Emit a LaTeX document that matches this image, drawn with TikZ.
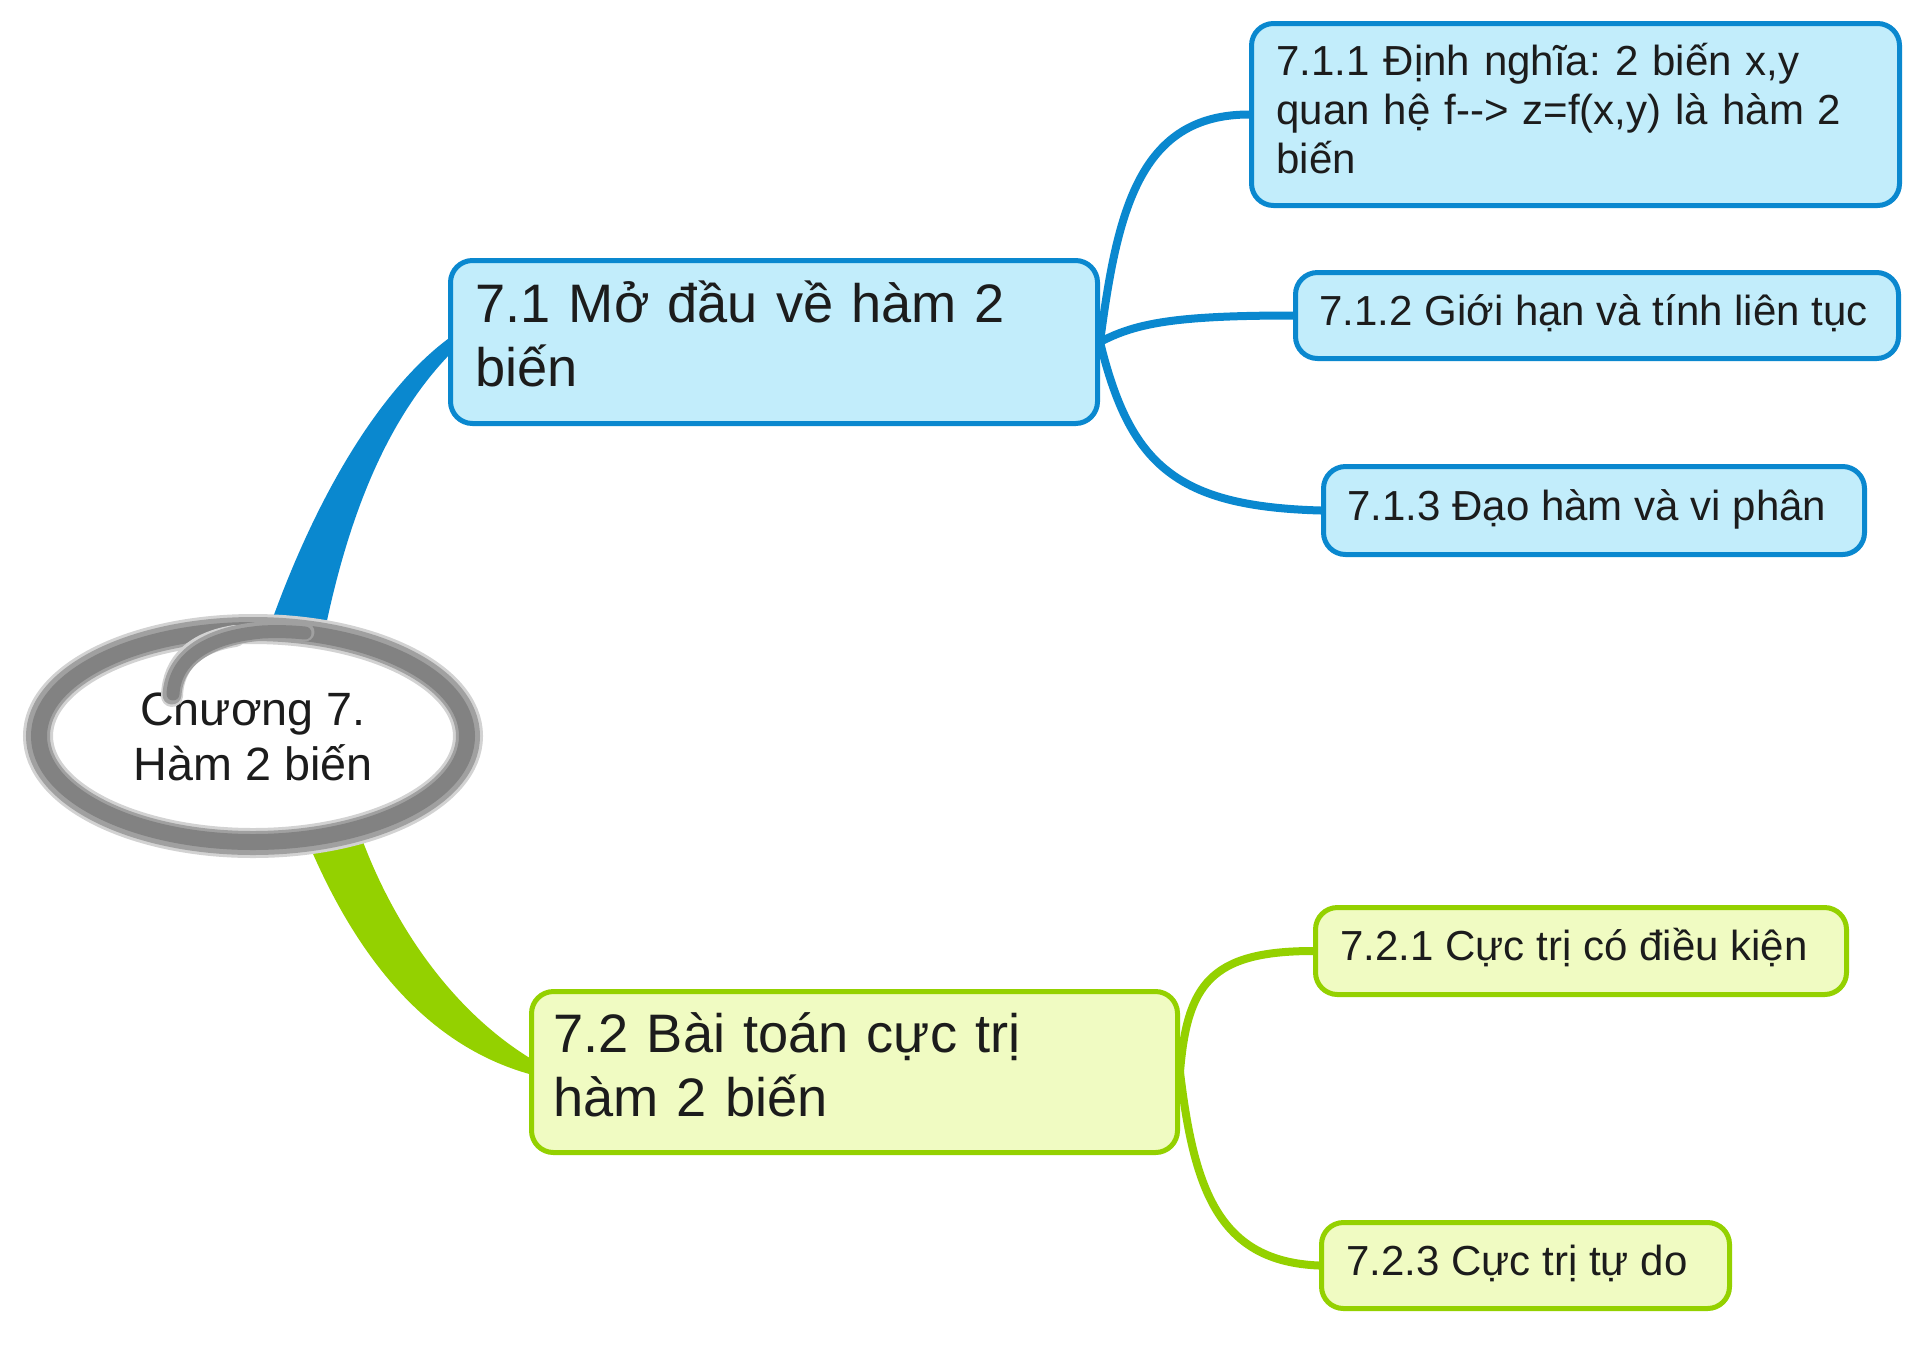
\documentclass[tikz,border=0pt]{standalone}
\usepackage{fontspec}
\setmainfont{Liberation Sans}
\frenchspacing
\usetikzlibrary{shapes.geometric,calc}
\pgfdeclarelayer{background}
\pgfsetlayers{background,main}
\definecolor{blueline}{HTML}{0A88CF}
\definecolor{bluefill}{HTML}{C2EDFB}
\definecolor{greenline}{HTML}{94D100}
\definecolor{greenfill}{HTML}{F0FBC2}
\definecolor{txt}{HTML}{1C1C1C}
\definecolor{brushA}{HTML}{D2D2D2}
\definecolor{brushB}{HTML}{A0A0A0}
\definecolor{brushC}{HTML}{828282}
\tikzset{
  box/.style={rectangle, rounded corners=11pt, line width=2.5pt, align=left,
    inner ysep=0pt, text=txt},
  bluebox/.style={box, draw=blueline, fill=bluefill},
  greenbox/.style={box, draw=greenline, fill=greenfill},
  bigtext/.style={font=\fontsize{27.1}{32}\selectfont, text height=22.4pt, text depth=41.6pt},
  smallone/.style={font=\fontsize{21}{24.5}\selectfont, text height=17.15pt, text depth=7.35pt},
  smallthree/.style={font=\fontsize{21}{24.5}\selectfont, text height=17.15pt, text depth=56.35pt},
  conn/.style={line width=4pt, line cap=round},
  rootnode/.style={ellipse, fill=white, minimum width=215pt, minimum height=107pt,
    inner sep=0pt, align=center, text=txt, font=\fontsize{23.35}{27.5}\selectfont}
}
\begin{document}
\begin{tikzpicture}[x=0.5pt,y=-0.5pt]
\useasboundingbox (0,0) rectangle (1920,1361);

% nodes
\node[rootnode] (root) at (253,736) {Chương 7.\\Hàm 2 biến};

\node[bluebox, bigtext, text width=298.5pt, inner xsep=12.5pt, minimum height=81.5pt]
  (n71) at (774,342) {7.1 Mở đầu về hàm 2\\biến};
\node[bluebox, smallthree, text width=299pt, inner xsep=12.5pt, minimum height=91pt]
  (n711) at (1575.5,114.5) {7.1.1 Định nghĩa: 2 biến x,y\\quan hệ f-\kern0pt-\kern0pt> z=f(x,y) là hàm 2\\biến};
\node[bluebox, smallone, inner xsep=12pt, minimum height=43pt]
  (n712) at (1597,315.5) {\makebox[277.5pt][l]{7.1.2 Giới hạn và tính liên tục}};
\node[bluebox, smallone, inner xsep=12pt, minimum height=44pt]
  (n713) at (1594,510.5) {\makebox[246.5pt][l]{7.1.3 Đạo hàm và vi phân}};

\node[greenbox, bigtext, text width=301pt, inner xsep=11pt, minimum height=80.5pt]
  (n72) at (854.5,1072) {7.2 Bài toán cực trị\\hàm 2 biến};
\node[greenbox, smallone, inner xsep=12.5pt, minimum height=43.5pt]
  (n721) at (1581,951) {\makebox[240.5pt][l]{7.2.1 Cực trị có điều kiện}};
\node[greenbox, smallone, inner xsep=12.5pt, minimum height=43pt]
  (n723) at (1525.5,1265.5) {\makebox[179pt][l]{7.2.3 Cực trị tự do}};

% brush ring of the central topic, then the curl of the brush stroke
\draw[brushA, line width=15pt] (root.center) ellipse [x radius=215, y radius=107];
\draw[brushB, line width=12pt] (root.center) ellipse [x radius=215, y radius=107];
\draw[brushC, line width=8pt] (root.center) ellipse [x radius=214, y radius=106];
\draw[brushA, line width=11pt, line cap=round] (172,696) .. controls (173,662) and (196,642) .. (235,636);
\draw[brushB, line width=9.5pt, line cap=round] (172,695) .. controls (174,660) and (205,636) .. (262,631) .. controls (280,630) and (295,631) .. (305,632);
\draw[brushC, line width=6.5pt, line cap=round] (173,694) .. controls (175,660) and (205,637) .. (262,632) .. controls (280,631) and (295,632) .. (305,633);

\begin{pgfonlayer}{background}
\fill[white] (0,0) rectangle (1920,1361);
% main branches
\fill[blueline] ($(root.center)+(12,-96)$) .. controls (320,480) and (390,380) ..
  ($(n71.west)+(4,-6)$) -- ($(n71.west)+(4,10)$) .. controls (395,410) and (350,500) ..
  ($(root.center)+(69,-91)$) -- cycle;
\fill[greenline] ($(root.center)+(52,99)$) .. controls (350,945) and (420,1045) ..
  ($(n72.west)+(4,3)$) -- ($(n72.west)+(4,-12)$) .. controls (450,1010) and (390,920) ..
  ($(root.center)+(105,92)$) -- cycle;
% sub branches
\draw[conn, blueline] (n71.east) .. controls +(17,-130) and +(-110,0) .. (n711.west);
\draw[conn, blueline] (n71.east) .. controls +(36,-19) and +(-117,0) .. (n712.west);
\draw[conn, blueline] (n71.east) .. controls +(30,123) and +(-145,-4) .. (n713.west);
\draw[conn, greenline] (n72.east) .. controls +(7,-87) and +(-103,0) .. (n721.west);
\draw[conn, greenline] (n72.east) .. controls +(14,118) and +(-100,-4) .. (n723.west);
\end{pgfonlayer}
\end{tikzpicture}
\end{document}
